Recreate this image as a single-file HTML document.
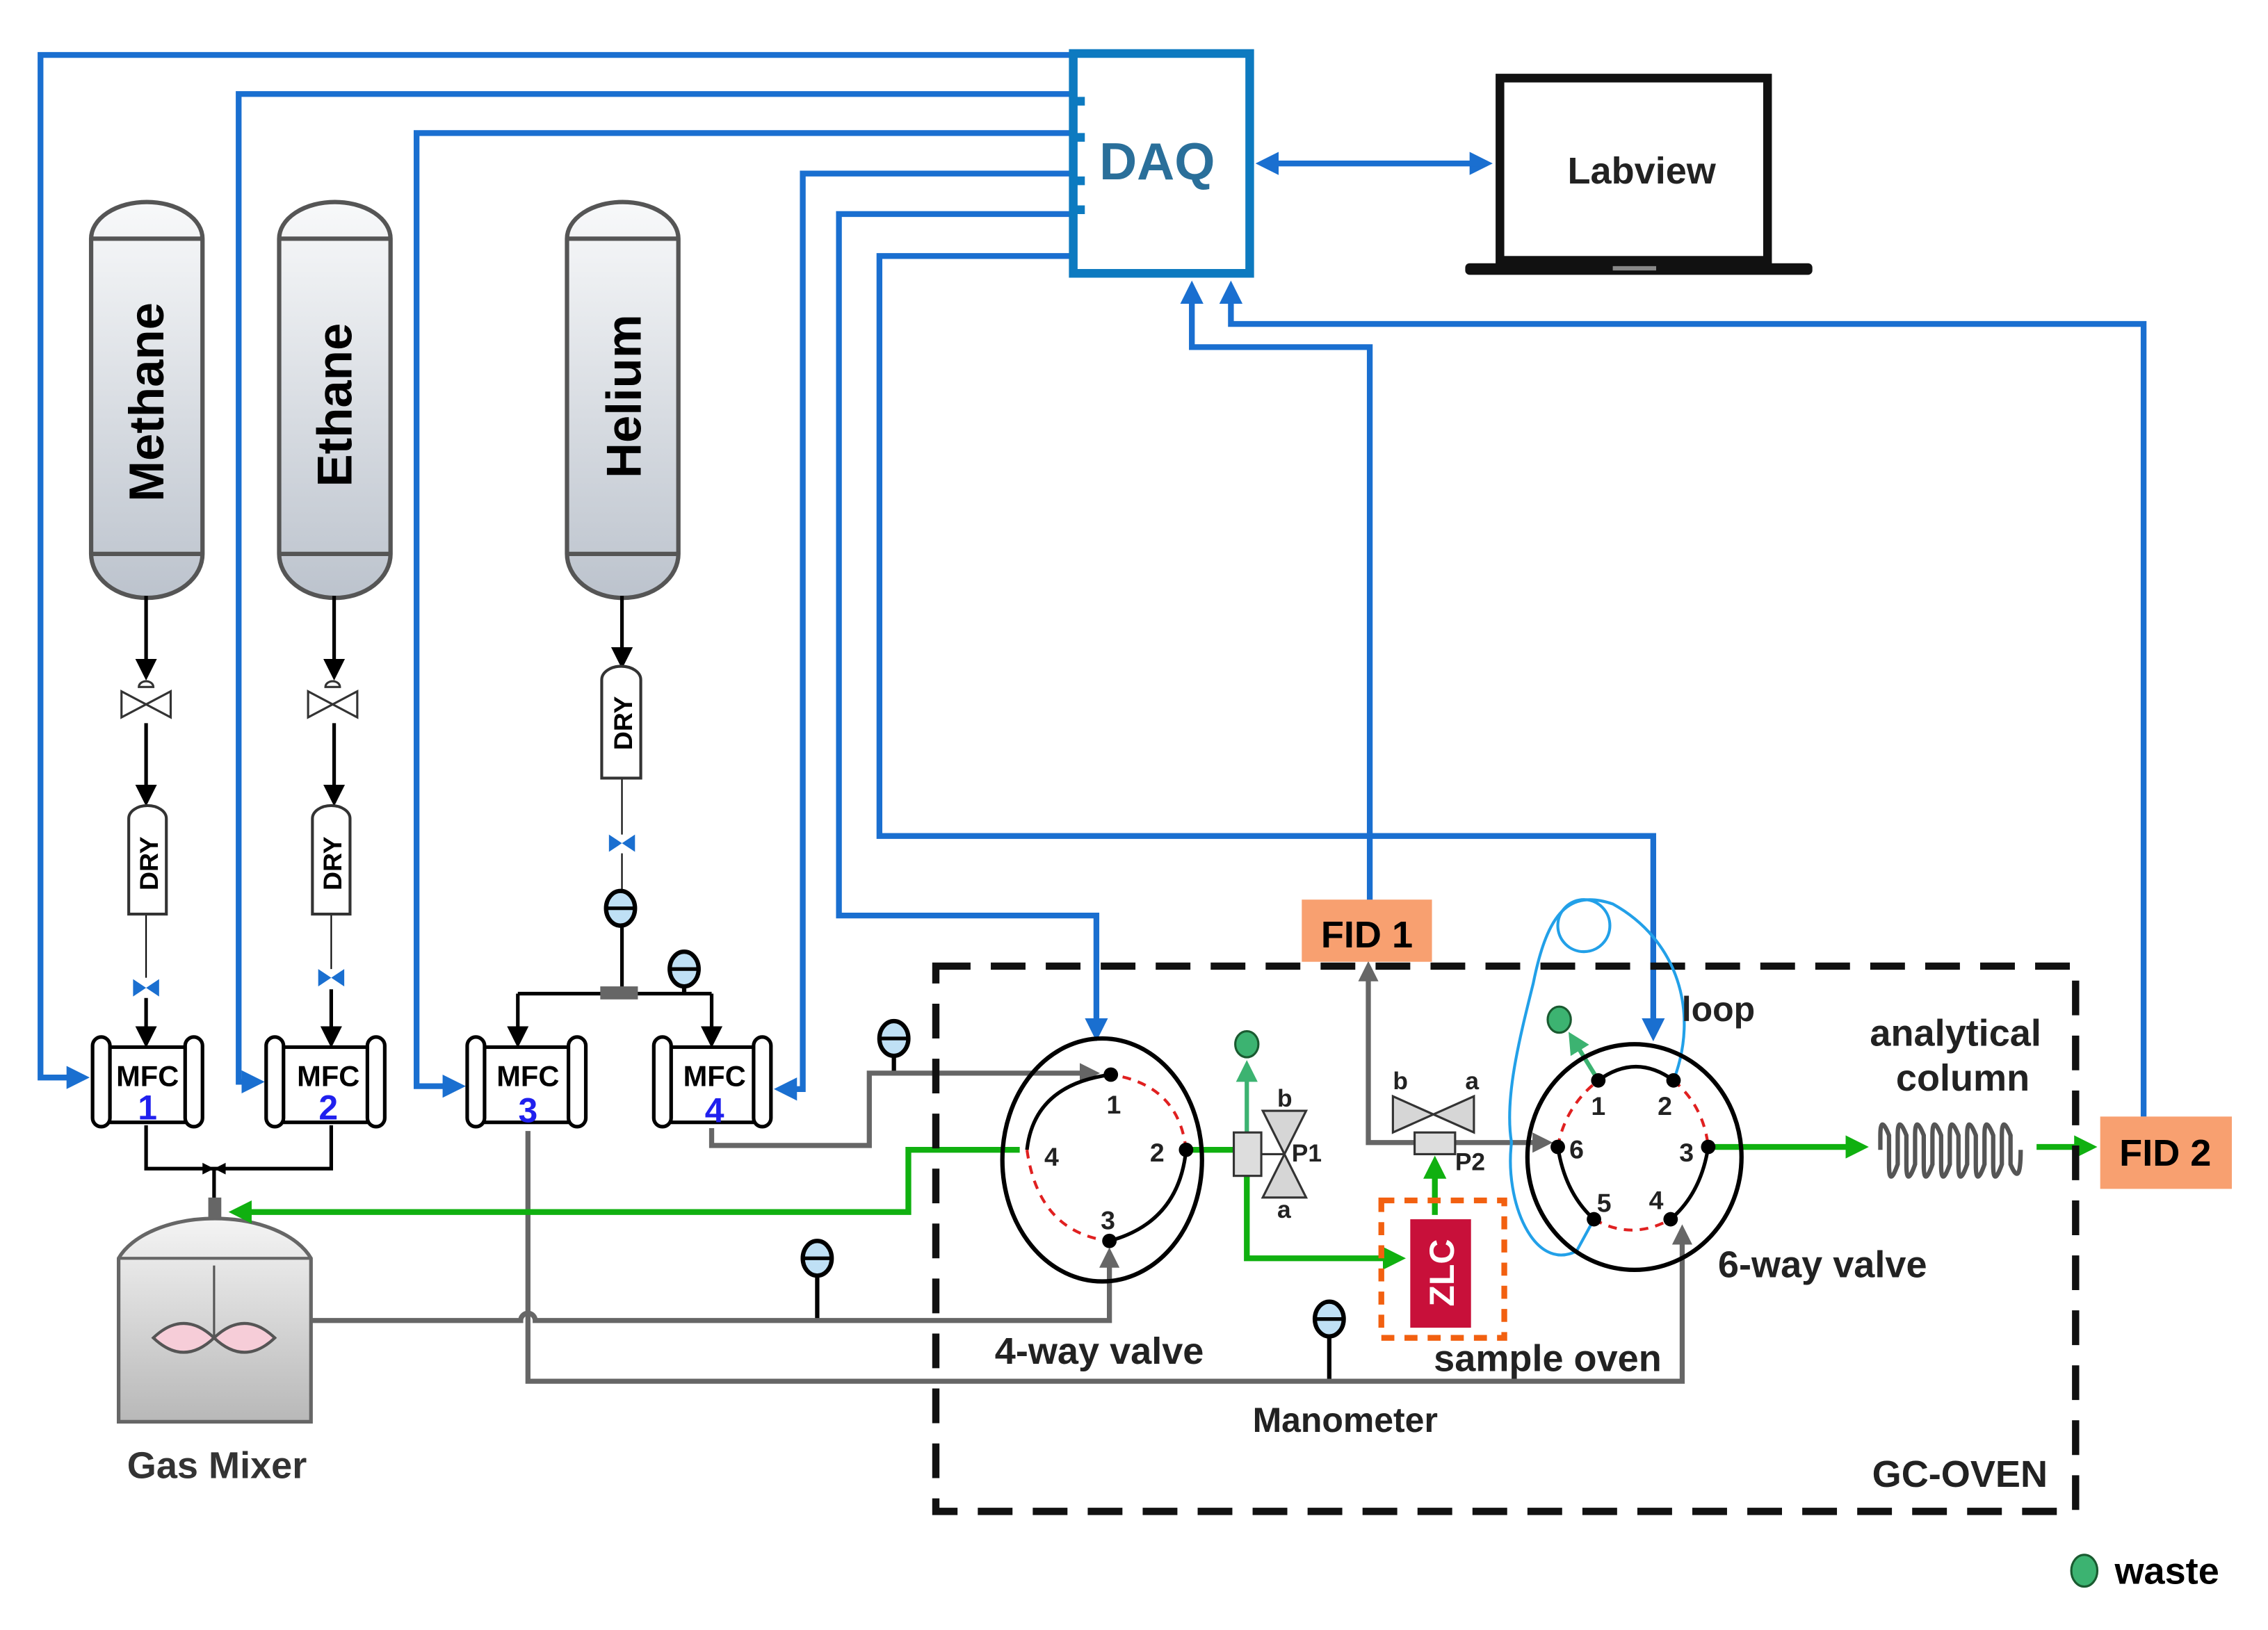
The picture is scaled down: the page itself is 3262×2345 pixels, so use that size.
<!DOCTYPE html>
<html><head><meta charset="utf-8"><style>
html,body{margin:0;padding:0;background:#fff;}
svg{display:block;}
text{font-family:"Liberation Sans",sans-serif;font-weight:bold;}
</style></head><body>
<svg width="3262" height="2345" viewBox="0 0 1568 1127" preserveAspectRatio="none" xmlns="http://www.w3.org/2000/svg">
<defs>
<linearGradient id="cyl" x1="0" y1="0" x2="0" y2="1"><stop offset="0" stop-color="#f8f9fa"/><stop offset="1" stop-color="#bcc3cd"/></linearGradient>
<linearGradient id="mix" x1="0" y1="0" x2="0" y2="1"><stop offset="0" stop-color="#f4f4f4"/><stop offset="1" stop-color="#b8b8b8"/></linearGradient>
<marker id="ab" markerWidth="4" markerHeight="4" refX="3" refY="2" orient="auto"><path d="M0,0 L4,2 L0,4 z" fill="#1a6fd0"/></marker>
<marker id="ak" markerWidth="6" markerHeight="6" refX="5" refY="3" orient="auto"><path d="M0,0 L6,3 L0,6 z" fill="#000"/></marker>
<marker id="ag" markerWidth="4" markerHeight="4" refX="3" refY="2" orient="auto"><path d="M0,0 L4,2 L0,4 z" fill="#666"/></marker>
<marker id="agr" markerWidth="4" markerHeight="4" refX="3" refY="2" orient="auto"><path d="M0,0 L4,2 L0,4 z" fill="#10b010"/></marker>
<marker id="agl" markerWidth="5" markerHeight="5" refX="4" refY="2.5" orient="auto"><path d="M0,0 L5,2.5 L0,5 z" fill="#3cb371"/></marker>
</defs>

<g fill="none" stroke="#1a6fd0" stroke-width="4">
<path d="M740,38 H28 V745 H58" marker-end="url(#ab)"/>
<path d="M740,65 H165 V748 H179" marker-end="url(#ab)"/>
<path d="M740,92 H288 V751 H318" marker-end="url(#ab)"/>
<path d="M740,120 H555 V753 H539" marker-end="url(#ab)"/>
<path d="M740,148 H580 V633 H758 V716" marker-end="url(#ab)"/>
<path d="M740,177 H608 V578 H1143 V716" marker-end="url(#ab)"/>
<path d="M947,625 V240 H824 V198" marker-end="url(#ab)"/>
<path d="M1482,772 V224 H851 V198" marker-end="url(#ab)"/>
<path d="M872,113 H1028" marker-end="url(#ab)" />
<path d="M1028,113 H872" marker-end="url(#ab)" />
</g>
<rect x="742" y="37" width="122" height="152" fill="#fff" stroke="#0d7ac0" stroke-width="6"/>
<path d="M742,70 h8 M742,95 h8 M742,125 h8 M742,145 h8" stroke="#0d7ac0" stroke-width="6"/>
<text x="800" y="124" font-size="36" fill="#2a6f9a" text-anchor="middle">DAQ</text>
<rect x="1037" y="54" width="185" height="126" fill="#fff" stroke="#111" stroke-width="6"/>
<rect x="1013" y="182" width="240" height="8" rx="3" fill="#111"/>
<rect x="1115" y="184" width="30" height="3" fill="#888"/>
<text x="1135" y="127" font-size="26" text-anchor="middle" fill="#222">Labview</text>

<g stroke="#555" stroke-width="3" fill="url(#cyl)">
<path d="M63,383 V165 A38,25 0 0 1 140,165 V383 A38,30 0 0 1 63,383 z"/>
<path d="M193,383 V165 A38,25 0 0 1 270,165 V383 A38,30 0 0 1 193,383 z"/>
<path d="M392,383 V165 A38,25 0 0 1 469,165 V383 A38,30 0 0 1 392,383 z"/>
<path d="M63,165 H140 M63,383 H140 M193,165 H270 M193,383 H270 M392,165 H469 M392,383 H469" fill="none"/>
</g>
<text transform="translate(113,278) rotate(-90)" font-size="34" text-anchor="middle">Methane</text>
<text transform="translate(243,280) rotate(-90)" font-size="34" text-anchor="middle">Ethane</text>
<text transform="translate(443,274) rotate(-90)" font-size="34" text-anchor="middle">Helium</text>

<g stroke="#000" stroke-width="2.5" fill="none">
<path d="M101,412 V468" marker-end="url(#ak)"/><path d="M101,500 V555" marker-end="url(#ak)"/>
<path d="M231,412 V468" marker-end="url(#ak)"/><path d="M231,500 V555" marker-end="url(#ak)"/>
<path d="M430,412 V460" marker-end="url(#ak)"/>
<path d="M101,632 V676" stroke-width="1"/><path d="M101,690 V722" marker-end="url(#ak)"/>
<path d="M229,632 V670" stroke-width="1"/><path d="M229,684 V722" marker-end="url(#ak)"/>
<path d="M430,538 V577" stroke-width="1"/><path d="M430,590 V617" stroke-width="1"/>
<path d="M430,640 V687"/>
<path d="M358,687 H492"/>
<path d="M358,687 V722" marker-end="url(#ak)"/><path d="M492,687 V722" marker-end="url(#ak)"/>
<path d="M101,778 V808 H229 V778"/>
<path d="M148,808 V862" marker-end="url(#ak)"/>
</g>
<rect x="415" y="682" width="26" height="9" fill="#666"/>
<rect x="144" y="828" width="9" height="18" fill="#666"/>
<g stroke="#333" stroke-width="1.5" fill="#fff">
<path d="M84,478 L118,496 V478 L84,496 z"/><path d="M96,475 a5,4 0 0 1 10,0 z"/>
<path d="M213,478 L247,496 V478 L213,496 z"/><path d="M225,475 a5,4 0 0 1 10,0 z"/>
</g>
<g fill="#1a6fd0">
<path d="M92,677 L110,689 V677 L92,689 z"/><path d="M220,670 L238,682 V670 L220,682 z"/><path d="M421,577 L439,589 V577 L421,589 z"/>
<path d="M140,804 l8,4 -8,4z M156,804 l-8,4 8,4z" fill="#000"/>
</g>
<g stroke="#333" stroke-width="2" fill="#fff">
<path d="M89,632 V566 a13,9 0 0 1 26,0 V632 z"/>
<path d="M216,632 V566 a13,9 0 0 1 26,0 V632 z"/>
<path d="M416,538 V470 a13,9 0 0 1 27,0 V538 z"/>
</g>
<text transform="translate(109,597) rotate(-90)" font-size="18" text-anchor="middle">DRY</text>
<text transform="translate(236,597) rotate(-90)" font-size="18" text-anchor="middle">DRY</text>
<text transform="translate(437,500) rotate(-90)" font-size="18" text-anchor="middle">DRY</text>

<g stroke="#000" stroke-width="3">
<line x1="473" y1="682" x2="473" y2="687"/>
<line x1="618" y1="730" x2="618" y2="742"/>
<line x1="565" y1="882" x2="565" y2="912"/>
<line x1="919" y1="924" x2="919" y2="955"/>
</g>
<g stroke="#000" stroke-width="3" fill="#bfe0f5">
<ellipse cx="429" cy="628" rx="10" ry="12"/><ellipse cx="473" cy="670" rx="10" ry="12"/><ellipse cx="618" cy="718" rx="10" ry="12"/><ellipse cx="565" cy="870" rx="10" ry="12"/><ellipse cx="919" cy="912" rx="10" ry="12"/>
</g>
<g stroke="#000" stroke-width="2.5"><path d="M419,628h20M463,670h20M608,718h20M555,870h20M909,912h20"/></g>

<g stroke="#000" stroke-width="2.5" fill="#fff">
<rect x="70" y="724" width="64" height="52"/><rect x="64" y="717" width="12" height="62" rx="6"/><rect x="128" y="717" width="12" height="62" rx="6"/>
<rect x="191" y="724" width="68" height="52"/><rect x="184" y="717" width="12" height="62" rx="6"/><rect x="254" y="717" width="12" height="62" rx="6"/>
<rect x="330" y="724" width="68" height="52"/><rect x="323" y="717" width="12" height="62" rx="6"/><rect x="393" y="717" width="12" height="62" rx="6"/>
<rect x="459" y="724" width="68" height="52"/><rect x="452" y="717" width="12" height="62" rx="6"/><rect x="521" y="717" width="12" height="62" rx="6"/>
</g>
<g font-size="20" text-anchor="middle"><text x="102" y="751">MFC</text><text x="227" y="751">MFC</text><text x="365" y="751">MFC</text><text x="494" y="751">MFC</text></g>
<g font-size="24" text-anchor="middle" fill="#2020ee"><text x="102" y="774">1</text><text x="227" y="774">2</text><text x="365" y="776">3</text><text x="494" y="776">4</text></g>

<path d="M82,983 V870 A70,40 0 0 1 215,870 V983 z" fill="url(#mix)" stroke="#666" stroke-width="2.5"/>
<line x1="82" y1="870" x2="215" y2="870" stroke="#666" stroke-width="2"/>
<line x1="148" y1="875" x2="148" y2="925" stroke="#555" stroke-width="1.5"/>
<path d="M106,925 Q127,905 148,925 Q127,945 106,925z M148,925 Q169,905 190,925 Q169,945 148,925z" fill="#f6cdd8" stroke="#555" stroke-width="2"/>
<text x="150" y="1022" font-size="26" text-anchor="middle" fill="#333">Gas Mixer</text>

<g stroke="#666" stroke-width="3.5" fill="none">
<path d="M215,913 H360 a5,5 0 0 1 10,0 H767 V866" marker-end="url(#ag)"/>
<path d="M365,782 V955 H1163 V850" marker-end="url(#ag)"/>
<path d="M492,780 V792 H601 V742 H757" marker-end="url(#ag)"/>
<path d="M978,790 H946 V668" marker-end="url(#ag)"/>
<path d="M1006,790 H1070" marker-end="url(#ag)"/>
</g>
<g stroke="#10b010" stroke-width="4" fill="none">
<path d="M705,795 H628 V838 H162" marker-end="url(#agr)"/>
<path d="M822,795 H853"/>
<path d="M862,813 V870 H968" marker-end="url(#agr)"/>
<path d="M992,840 V803" marker-end="url(#agr)"/>
<path d="M1181,793 H1288" marker-end="url(#agr)"/>
<path d="M1408,793 H1446" marker-end="url(#agr)"/>
</g>
<path d="M862,783 V736" stroke="#3cb371" stroke-width="3" marker-end="url(#agl)"/>
<path d="M1105,747 L1086,716" stroke="#3cb371" stroke-width="3" marker-end="url(#agl)"/>
<g fill="#3cb371" stroke="#1a5a30" stroke-width="1.5">
<ellipse cx="862" cy="722" rx="8" ry="9"/><ellipse cx="1078" cy="705" rx="8" ry="9"/><ellipse cx="1441" cy="1086" rx="9" ry="11"/>
</g>
<text x="1462" y="1095" font-size="26">waste</text>

<rect x="647" y="668" width="788" height="377" fill="none" stroke="#111" stroke-width="5" stroke-dasharray="24,14"/>
<text x="1355" y="1028" font-size="26" text-anchor="middle" fill="#222">GC-OVEN</text>
<text x="930" y="990" font-size="24" text-anchor="middle" fill="#222">Manometer</text>

<!-- 4-way valve -->
<ellipse cx="762" cy="802" rx="69" ry="84" fill="none" stroke="#000" stroke-width="3"/>
<g fill="none" stroke-width="2.5">
<path d="M768,743 Q715,750 710,795" stroke="#000"/>
<path d="M710,795 Q718,852 767,858" stroke="#e02020" stroke-width="2" stroke-dasharray="6,5"/>
<path d="M767,858 Q815,845 820,795" stroke="#000"/>
<path d="M820,795 Q815,750 768,743" stroke="#e02020" stroke-width="2" stroke-dasharray="6,5"/>
</g>
<g fill="#000"><circle cx="768" cy="743" r="5"/><circle cx="820" cy="795" r="5"/><circle cx="767" cy="858" r="5"/></g>
<g font-size="18" fill="#222"><text x="765" y="770">1</text><text x="795" y="803">2</text><text x="761" y="850">3</text><text x="722" y="806">4</text></g>
<text x="760" y="943" font-size="26" text-anchor="middle" fill="#222">4-way valve</text>

<rect x="853" y="783" width="19" height="30" fill="#ddd" stroke="#333" stroke-width="1.5"/>
<path d="M873,768 H903 L873,828 H903 z" fill="#d6d6d6" stroke="#333" stroke-width="1.5"/>
<line x1="872" y1="798" x2="888" y2="798" stroke="#333" stroke-width="1.5"/>
<g font-size="17" fill="#222"><text x="883" y="765">b</text><text x="883" y="842">a</text><text x="893" y="803">P1</text></g>
<path d="M963,758 V783 L1019,758 V783 z" fill="#d6d6d6" stroke="#333" stroke-width="1.5"/>
<rect x="978" y="783" width="28" height="15" fill="#ddd" stroke="#333" stroke-width="1.5"/>
<g font-size="17" fill="#222"><text x="963" y="753">b</text><text x="1013" y="753">a</text><text x="1006" y="809">P2</text></g>
<rect x="955" y="830" width="85" height="95" fill="none" stroke="#f26010" stroke-width="4" stroke-dasharray="9,7"/>
<rect x="975" y="843" width="42" height="75" fill="#c8103a"/>
<text transform="translate(1005,880) rotate(-90)" font-size="24" fill="#fff" text-anchor="middle">ZLC</text>
<text x="1070" y="948" font-size="26" text-anchor="middle" fill="#222">sample oven</text>

<rect x="900" y="622" width="90" height="43" fill="#f8a070"/>
<text x="945" y="655" font-size="26" text-anchor="middle">FID 1</text>
<rect x="1452" y="772" width="91" height="50" fill="#f8a070"/>
<text x="1497" y="806" font-size="26" text-anchor="middle">FID 2</text>

<path d="M1157,747 C1175,700 1160,650 1115,625 C1085,615 1070,630 1060,680 C1050,720 1040,760 1045,790 C1040,830 1060,880 1090,865 L1102,843" fill="none" stroke="#22a0e8" stroke-width="2"/>
<circle cx="1095" cy="640" r="18" fill="none" stroke="#22a0e8" stroke-width="2"/>
<ellipse cx="1130" cy="800" rx="74" ry="78" fill="none" stroke="#000" stroke-width="3"/>
<g fill="none" stroke-width="2.5">
<path d="M1105,747 Q1131,728 1157,747" stroke="#000"/>
<path d="M1077,793 Q1082,825 1102,843" stroke="#000"/>
<path d="M1181,793 Q1176,825 1155,843" stroke="#000"/>
<path d="M1157,747 Q1178,765 1181,793" stroke="#e02020" stroke-width="2" stroke-dasharray="6,5"/>
<path d="M1102,843 Q1128,858 1155,843" stroke="#e02020" stroke-width="2" stroke-dasharray="6,5"/>
<path d="M1077,793 Q1082,765 1105,747" stroke="#e02020" stroke-width="2" stroke-dasharray="6,5"/>
</g>
<g fill="#000"><circle cx="1105" cy="747" r="5"/><circle cx="1157" cy="747" r="5"/><circle cx="1181" cy="793" r="5"/><circle cx="1155" cy="843" r="5"/><circle cx="1102" cy="843" r="5"/><circle cx="1077" cy="793" r="5"/></g>
<g font-size="18" fill="#222"><text x="1100" y="771">1</text><text x="1146" y="771">2</text><text x="1161" y="803">3</text><text x="1140" y="836">4</text><text x="1104" y="838">5</text><text x="1085" y="801">6</text></g>
<text x="1188" y="706" font-size="24" text-anchor="middle" fill="#222">loop</text>
<text x="1260" y="883" font-size="26" text-anchor="middle" fill="#222">6-way valve</text>

<text x="1352" y="723" font-size="26" text-anchor="middle" fill="#222">analytical</text>
<text x="1357" y="754" font-size="26" text-anchor="middle" fill="#222">column</text>
<g fill="none" stroke="#555" stroke-width="3">
<path d="M1300,795 V785 Q1300,770 1306,785 V805 Q1306,822 1312,805 V785 Q1312,770 1318,785 V805 Q1318,822 1324,805 V785 Q1324,770 1330,785 V805 Q1330,822 1336,805 V785 Q1336,770 1342,785 V805 Q1342,822 1348,805 V785 Q1348,770 1354,785 V805 Q1354,822 1360,805 V785 Q1360,770 1366,785 V805 Q1366,822 1372,805 V785 Q1372,770 1378,785 V805 Q1378,822 1384,805 V785 Q1384,770 1390,785 V805 Q1397,822 1397,795"/>
</g>
</svg>
</body></html>
